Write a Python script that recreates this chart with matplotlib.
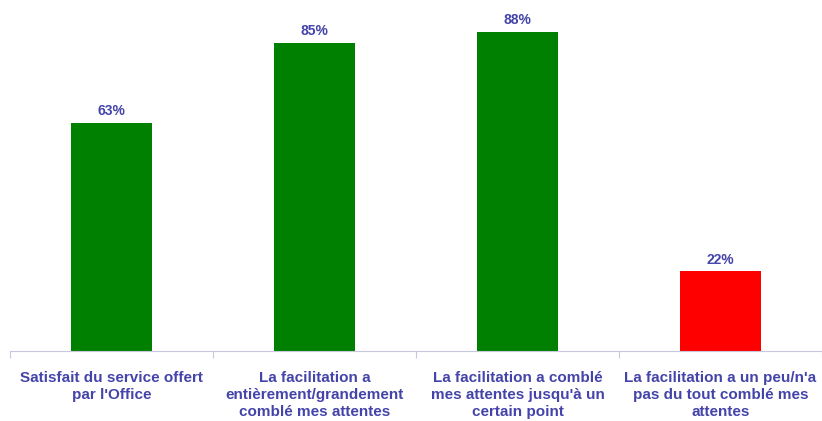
import matplotlib.pyplot as plt

# --- Data ---
categories = [
    "Satisfait du service offert\npar l'Office",
    "La facilitation a\nentièrement/grandement\ncomblé mes attentes",
    "La facilitation a comblé\nmes attentes jusqu'à un\ncertain point",
    "La facilitation a un peu/n'a\npas du tout comblé mes\nattentes",
]
values = [63, 85, 88, 22]
bar_colors = ["#008000", "#008000", "#008000", "#ff0000"]

TEXT_COLOR = "#4444aa"

fig = plt.figure(figsize=(8.22, 4.21), dpi=100)
ax = fig.add_axes([10 / 822, 70 / 421, 812 / 822, 351 / 421])

x = list(range(len(values)))
ax.bar(x, values, width=0.395, color=bar_colors)

for xi, v in zip(x, values):
    ax.text(xi, v + 1.3, f"{v}%", ha="center", va="bottom",
            fontsize=10, fontweight="bold", color=TEXT_COLOR,
            family="Liberation Sans")

ax.set_xlim(-0.5, len(values) - 0.5)
ax.set_ylim(0, 96.8)

for s in ["top", "right", "left"]:
    ax.spines[s].set_visible(False)
ax.spines["bottom"].set_color("#c8c8dc")
ax.set_yticks([])

# category boundary ticks
ax.set_xticks([i - 0.5 for i in range(len(values) + 1)])
ax.set_xticklabels([])
ax.tick_params(axis="x", length=5, color="#c8c8dc", direction="out")

for xi, lab in zip(x, categories):
    ax.text(xi, -5.4, lab, ha="center", va="top", fontsize=11,
            fontweight="bold", color=TEXT_COLOR, family="Liberation Sans",
            linespacing=1.28)

fig.savefig("out.png", dpi=100)
